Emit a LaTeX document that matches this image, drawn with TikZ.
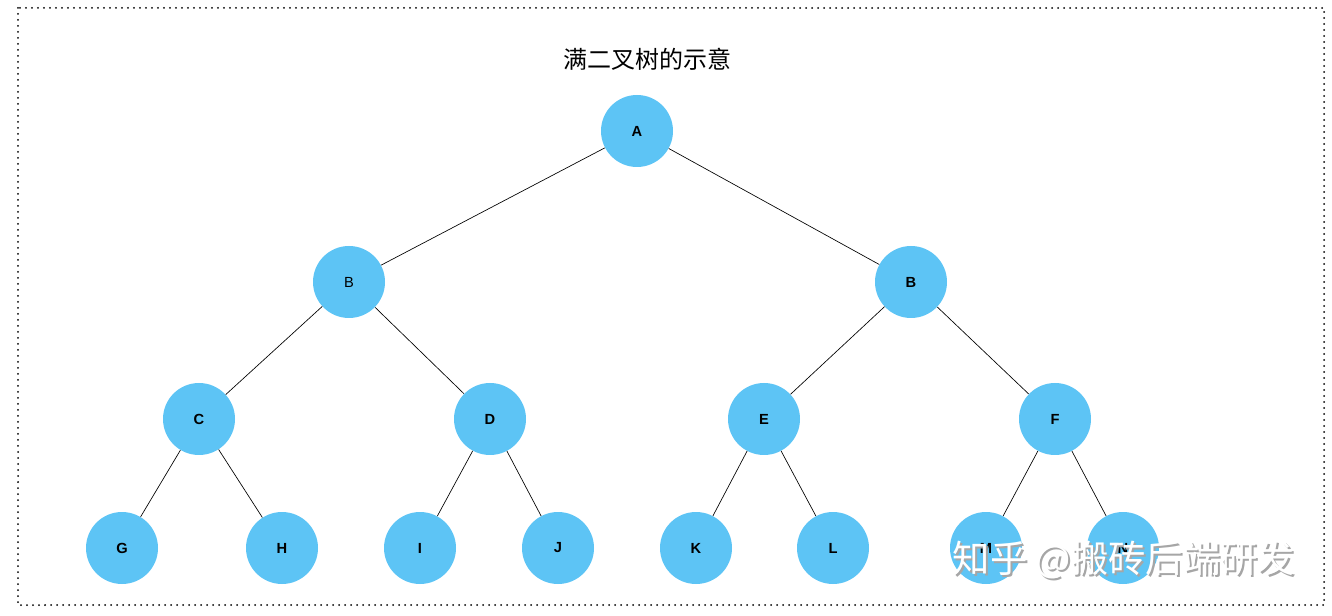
\documentclass[tikz,border=0pt]{standalone}
\usepackage{fontspec}
\setmainfont{Liberation Sans}
\newfontfamily\cjk{Noto Sans CJK SC}
\usepackage{tikz}
\usetikzlibrary{positioning,calc}
\definecolor{nodeblue}{RGB}{93,196,245}
\tikzset{
  knot/.style={circle,fill=nodeblue,minimum size=54pt,inner sep=0pt,font=\bfseries\fontsize{11}{13}\selectfont},
  edge/.style={black,line width=0.5pt}
}

\begin{document}
\begin{tikzpicture}[x=0.75pt,y=-0.75pt]

% Frame of the picture (dotted border)
\useasboundingbox (0,0) rectangle (1332,616);
\draw[line width=1.5pt,line cap=round,dash pattern=on 0pt off 4.5pt] (18,8) rectangle (1324,605);

% Title
\node (title) at (647,59) {\cjk\fontsize{18}{20}\selectfont 满二叉树的示意};

% Level 0 and 1
\node[knot] (A)  at (637,131) {A};
\node[knot,font=\fontsize{11}{13}\selectfont] (B1) at (349,282) {B};
\node[knot] (B2) at (911,282) {B};

% Level 2
\node[knot] (C) at (199,419)  {C};
\node[knot] (D) at (490,419)  {D};
\node[knot] (E) at (764,419)  {E};
\node[knot] (F) at (1055,419) {F};

% Level 3
\node[knot] (G) at (122,548)  {G};
\node[knot] (H) at (282,548)  {H};
\node[knot] (I) at (420,548)  {I};
\node[knot] (J) at (558,548)  {J};
\node[knot] (K) at (696,548)  {K};
\node[knot] (L) at (833,548)  {L};
\node[knot] (M) at (986,548)  {M};
\node[knot] (N) at (1123,548) {N};

% Edges
\draw[edge] (A)  -- (B1)
            (A)  -- (B2)
            (B1) -- (C)
            (B1) -- (D)
            (B2) -- (E)
            (B2) -- (F)
            (C)  -- (G)
            (C)  -- (H)
            (D)  -- (I)
            (D)  -- (J)
            (E)  -- (K)
            (E)  -- (L)
            (F)  -- (M)
            (F)  -- (N);

% Watermark over the last two nodes
\node[text=gray!70] (wmshadow) at (1126,562) {\cjk\fontsize{28}{31}\selectfont 知乎 @搬砖后端研发};
\node[text=white] (wm) at (1124,560) {\cjk\fontsize{28}{31}\selectfont 知乎 @搬砖后端研发};
\end{tikzpicture}
\end{document}
